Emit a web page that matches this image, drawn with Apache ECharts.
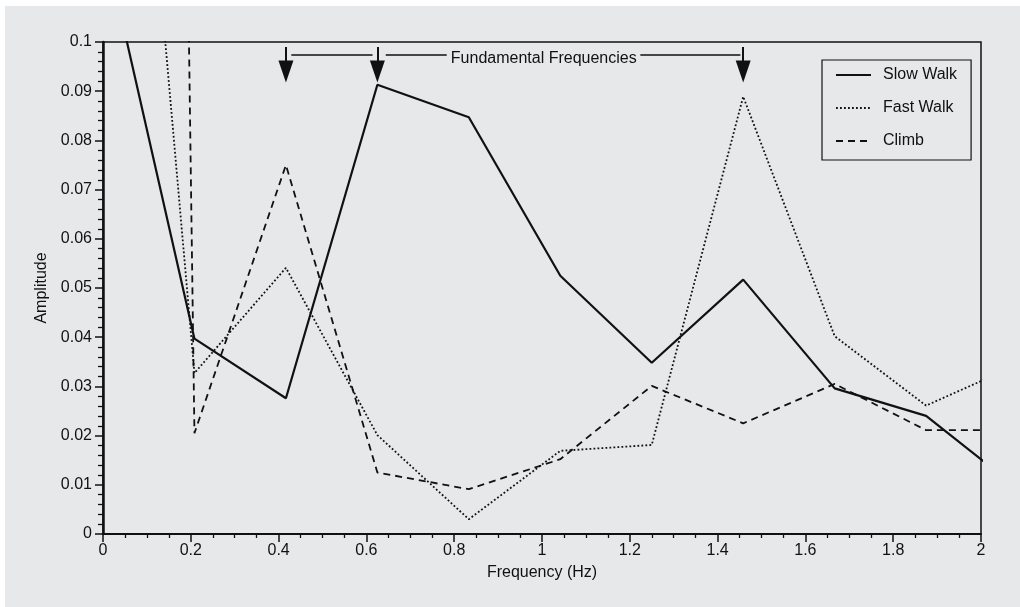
<!DOCTYPE html>
<html>
<head>
<meta charset="utf-8">
<script src="https://cdn.jsdelivr.net/npm/echarts@6/dist/echarts.min.js"></script>
<style>
  html, body { margin: 0; padding: 0; background: #ffffff; }
  #chart { position: absolute; left: 5px; top: 6px; width: 1015px; height: 601px; background: #e7e8ea; }
</style>
</head>
<body>
<div id="chart"></div>
<script>
// ---- data ----
const freqs = [0, 0.2083, 0.4167, 0.625, 0.8333, 1.0417, 1.25, 1.4583, 1.6667, 1.875, 2.0833];
const slowWalk = [0.1214, 0.0397, 0.0276, 0.0913, 0.0847, 0.0525, 0.0348, 0.0517, 0.0296, 0.0240, 0.0093];
const fastWalk = [0.2437, 0.0327, 0.0541, 0.0201, 0.0030, 0.0169, 0.0181, 0.0889, 0.0402, 0.0261, 0.0344];
const climb    = [1.35,   0.0205, 0.0750, 0.0125, 0.0091, 0.0152, 0.0301, 0.0225, 0.0305, 0.0211, 0.0211];
const seriesNames = ['Slow Walk', 'Fast Walk', 'Climb'];
const fundamentalFreqs = [0.4167, 0.625, 1.4583];
const annotationText = 'Fundamental Frequencies';
// bracket line segments (x ranges in Hz) and its level
const bracketSegments = [[0.429, 0.614], [0.644, 0.783], [1.224, 1.452]];
const bracketLevel = 0.0974;
const arrowTop = 0.0990;
const arrowHead = 0.0940;
const textPos = [1.004, 0.0967];

const FONT = '"Liberation Sans", Arial, Helvetica, sans-serif';
const INK = '#111111';

const pairs = arr => freqs.map((f, i) => [f, arr[i]]);

const chart = echarts.init(document.getElementById('chart'), null, { renderer: 'canvas' });

const arrowLines = fundamentalFreqs.map(f => [
  { coord: [f, arrowTop], symbol: 'none' },
  { coord: [f, arrowHead], symbol: 'triangle', symbolSize: [15, 22] }
]);
const bracketLines = bracketSegments.map(s => [
  { coord: [s[0], bracketLevel], symbol: 'none', lineStyle: { width: 1.5 } },
  { coord: [s[1], bracketLevel], symbol: 'none' }
]);

chart.setOption({
  animation: false,
  textStyle: { fontFamily: FONT, color: INK },
  grid: {
    left: 98, right: 39, top: 36, bottom: 73,
    show: true, borderColor: INK, borderWidth: 1.5, backgroundColor: 'transparent'
  },
  legend: {
    data: seriesNames,
    orient: 'vertical',
    left: 817, top: 54,
    itemWidth: 35, itemHeight: 14, itemGap: 17,
    borderColor: INK, borderWidth: 1.2,
    padding: [7, 14, 11, 13],
    itemStyle: { color: 'rgba(0,0,0,0)', borderWidth: 0, opacity: 0 },
    textStyle: { fontSize: 16, color: INK, fontFamily: FONT, padding: [0, 0, 0, 7] },
    selectedMode: false
  },
  xAxis: {
    type: 'value', min: 0, max: 2, interval: 0.2,
    name: 'Frequency (Hz)', nameLocation: 'middle', nameGap: 31,
    nameTextStyle: { fontSize: 16, color: INK, fontFamily: FONT },
    axisLine: { show: true, onZero: false, lineStyle: { color: INK, width: 2 } },
    axisTick: { show: true, inside: false, length: 8, lineStyle: { color: INK, width: 1.5 } },
    minorTick: { show: true, splitNumber: 4, length: 4, lineStyle: { color: INK, width: 1.3 } },
    axisLabel: { fontSize: 16, color: INK, margin: 9, fontFamily: FONT },
    splitLine: { show: false }, minorSplitLine: { show: false }
  },
  yAxis: {
    type: 'value', min: 0, max: 0.1, interval: 0.01,
    name: 'Amplitude', nameLocation: 'middle', nameGap: 48,
    nameTextStyle: { fontSize: 16, color: INK, fontFamily: FONT },
    axisLine: { show: true, onZero: false, lineStyle: { color: INK, width: 2.5 } },
    axisTick: { show: true, inside: false, length: 8, lineStyle: { color: INK, width: 1.5 } },
    minorTick: { show: true, splitNumber: 5, length: 5, lineStyle: { color: INK, width: 1.3 } },
    axisLabel: { fontSize: 16, color: INK, margin: 11, fontFamily: FONT },
    splitLine: { show: false }, minorSplitLine: { show: false }
  },
  series: [
    {
      name: seriesNames[0], type: 'line', data: pairs(slowWalk), symbol: 'none', clip: true,
      lineStyle: { color: INK, width: 2.2, type: 'solid' }, itemStyle: { color: INK }
    },
    {
      name: seriesNames[1], type: 'line', data: pairs(fastWalk), symbol: 'none', clip: true,
      lineStyle: { color: INK, width: 1.8, type: [1.8, 2.2] }, itemStyle: { color: INK }
    },
    {
      name: seriesNames[2], type: 'line', data: pairs(climb), symbol: 'none', clip: true,
      lineStyle: { color: INK, width: 1.8, type: [7, 5] }, itemStyle: { color: INK }
    },
    {
      name: 'annotation', type: 'line', data: [], symbol: 'none',
      markLine: {
        silent: true, animation: false,
        symbol: ['none', 'none'],
        lineStyle: { color: INK, width: 2, type: 'solid' },
        label: { show: false },
        emphasis: { disabled: true },
        data: arrowLines.concat(bracketLines)
      },
      markPoint: {
        silent: true, animation: false,
        data: [{
          coord: textPos, symbol: 'rect', symbolSize: 1,
          itemStyle: { color: 'rgba(0,0,0,0)' },
          label: { show: true, position: 'inside', formatter: annotationText, color: INK, fontSize: 16, fontFamily: FONT }
        }]
      }
    }
  ]
});
</script>
</body>
</html>
